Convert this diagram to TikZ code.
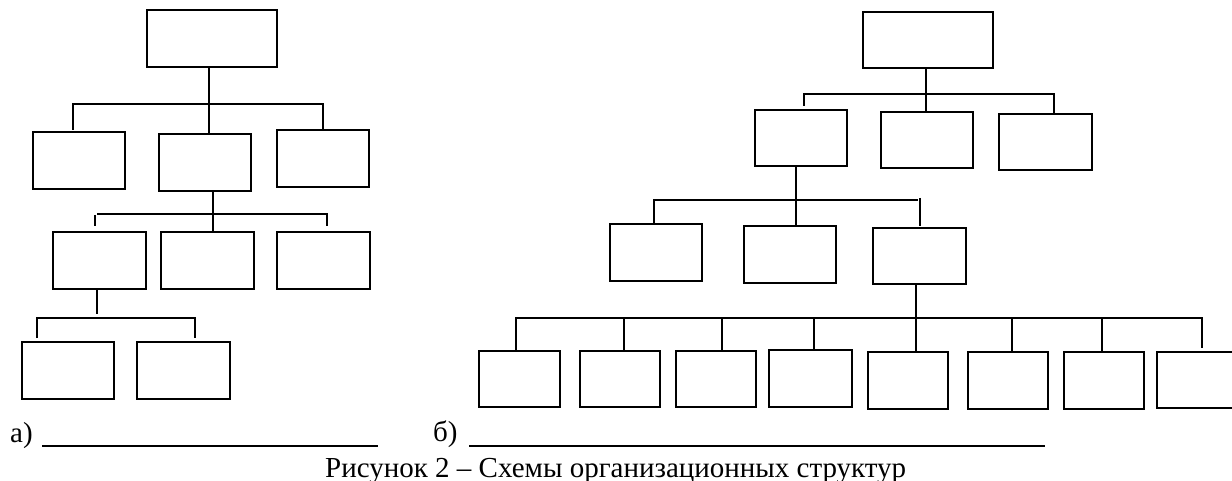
\documentclass[tikz,border=0pt]{standalone}
\usepackage{fontspec}
\setmainfont{Liberation Serif}
\newcommand{\obox}[5]{%
  \pgfmathsetmacro\obw{#4-#2}\pgfmathsetmacro\obh{#5-#3}%
  \node[orgbox, minimum width=\obw pt, minimum height=\obh pt] (#1) at ({(#2+#4)/2},{(#3+#5)/2}) {};}
\begin{document}
\begin{tikzpicture}[x=1pt,y=-1pt,
  orgbox/.style={draw, line width=1.7pt, inner sep=0pt, fill=none},
  conn/.style={line width=1.7pt},
  uline/.style={line width=1.4pt},
  lbl/.style={anchor=base west, inner sep=0pt, font=\fontsize{29}{34}\selectfont}]
\useasboundingbox (0,0) rectangle (1232,481);
% ---------- left structure (a) ----------
\obox{a0}{147}{10}{277}{67}
\obox{a1}{33}{132}{125}{189}
\obox{a2}{159}{134}{251}{191}
\obox{a3}{277}{130}{369}{187}
\obox{b1}{53}{232}{146}{289}
\obox{b2}{161}{232}{254}{289}
\obox{b3}{277}{232}{370}{289}
\obox{c1}{22}{342}{114}{399}
\obox{c2}{137}{342}{230}{399}
\coordinate (v1) at (209,104);
\coordinate (v1l) at (73,130);
\coordinate (v1r) at (323,129);
\draw[conn] (a0.south -| v1) -- (a2.north -| v1);
\draw[conn] (v1l) |- (v1) -| (v1r);
\coordinate (v2) at (213,214);
\coordinate (v2l) at (97,214);
\coordinate (v2r) at (327,226);
\coordinate (v2a) at (95,215);
\coordinate (v2b) at (95,226);
\draw[conn] (a2.south -| v2) -- (b2.north -| v2);
\draw[conn] (v2l) -- (v2) -| (v2r);
\draw[conn] (v2a) -- (v2b);
\coordinate (v3) at (97,314);
\coordinate (v3m) at (97,318);
\coordinate (v3l) at (37,338);
\coordinate (v3r) at (195,338);
\draw[conn] (b1.south -| v3) -- (v3);
\draw[conn] (v3l) |- (v3m) -| (v3r);
% ---------- right structure (b) ----------
\obox{r0}{863}{12}{993}{68}
\obox{r1}{755}{110}{847}{166}
\obox{r2}{881}{112}{973}{168}
\obox{r3}{999}{114}{1092}{170}
\obox{s1}{610}{224}{702}{281}
\obox{s2}{744}{226}{836}{283}
\obox{s3}{873}{228}{966}{284}
\obox{t1}{479}{351}{560}{407}
\obox{t2}{580}{351}{660}{407}
\obox{t3}{676}{351}{756}{407}
\obox{t4}{769}{350}{852}{407}
\obox{t5}{868}{352}{948}{409}
\obox{t6}{968}{352}{1048}{409}
\obox{t7}{1064}{352}{1144}{409}
\obox{t8}{1157}{352}{1249}{408}
\coordinate (w1) at (926,94);
\coordinate (w1l) at (804,106);
\coordinate (w1r) at (1054,114);
\draw[conn] (r0.south -| w1) -- (r2.north -| w1);
\draw[conn] (w1l) |- (w1) -| (w1r);
\coordinate (w2) at (796,200);
\coordinate (w2l) at (654,224);
\coordinate (w2e) at (918,200);
\coordinate (w2a) at (920,198);
\coordinate (w2b) at (920,226);
\draw[conn] (r1.south -| w2) -- (s2.north -| w2);
\draw[conn] (w2l) |- (w2) -- (w2e);
\draw[conn] (w2a) -- (w2b);
\coordinate (w3) at (916,318);
\coordinate (w3l) at (516,351);
\coordinate (w3r) at (1202,348);
\draw[conn] (s3.south -| w3) -- (t5.north -| w3);
\draw[conn] (w3l) |- (w3) -| (w3r);
\foreach \n/\x in {t2/624, t3/722, t4/814, t6/1012, t7/1102} {
  \coordinate (k) at (\x,318);
  \draw[conn] (k) -- (\n.north -| k);
}
% ---------- labels ----------
\node[lbl] (la) at (10,442) {а)};
\coordinate (ula) at (42,446);
\coordinate (ulb) at (378,446);
\draw[uline] (ula) -- (ulb);
\node[lbl] (lb) at (433,441) {б)};
\coordinate (ulc) at (469,446);
\coordinate (uld) at (1045,446);
\draw[uline] (ulc) -- (uld);
\node[lbl] (cap) at (325,477) {Рисунок 2 – Схемы организационных структур};
\end{tikzpicture}
\end{document}
